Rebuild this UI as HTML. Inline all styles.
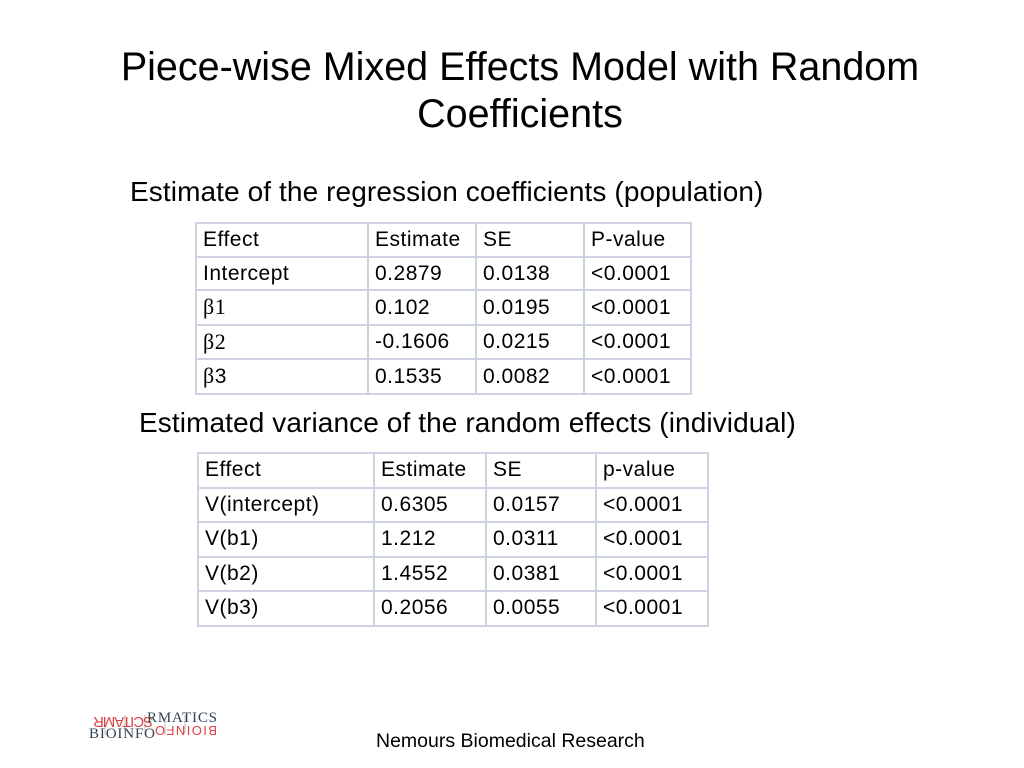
<!DOCTYPE html>
<html><head><meta charset="utf-8"><style>
body{margin:0;width:1024px;height:768px;background:#fff;position:relative;overflow:hidden;font-family:"Liberation Sans",sans-serif;color:#000}
.t{position:absolute;white-space:nowrap}
table{position:absolute;border-collapse:collapse;font-family:"Liberation Sans",sans-serif;font-size:21px;letter-spacing:0.5px;table-layout:fixed}
td{border:2px solid #cdd3e3;padding:0 0 0 6px;vertical-align:middle;overflow:hidden;white-space:nowrap}
#t1 td{height:31.6px;line-height:31.6px}
#t2 td{height:32.6px;line-height:32.6px}
.b{font-family:"Liberation Serif",serif;font-size:22px}
</style></head><body>
<div class="t" style="left:0;width:1040px;top:44px;text-align:center;font-size:39.5px;line-height:47px">Piece-wise Mixed Effects Model with Random<br>Coefficients</div>
<div class="t" style="left:130px;top:176px;font-size:28px;letter-spacing:0.1px">Estimate of the regression coefficients (population)</div>
<table id="t1" style="left:195px;top:222px">
<colgroup><col style="width:172px"><col style="width:108px"><col style="width:108px"><col style="width:107px"></colgroup>
<tr><td>Effect</td><td>Estimate</td><td>SE</td><td>P-value</td></tr>
<tr><td>Intercept</td><td>0.2879</td><td>0.0138</td><td>&lt;0.0001</td></tr>
<tr><td><span class="b">β1</span></td><td>0.102</td><td>0.0195</td><td>&lt;0.0001</td></tr>
<tr><td><span class="b">β2</span></td><td>-0.1606</td><td>0.0215</td><td>&lt;0.0001</td></tr>
<tr><td><span class="b">β</span>3</td><td>0.1535</td><td>0.0082</td><td>&lt;0.0001</td></tr>
</table>
<div class="t" style="left:139px;top:407px;font-size:28px;letter-spacing:0.1px">Estimated variance of the random effects (individual)</div>
<table id="t2" style="left:197px;top:452px">
<colgroup><col style="width:176px"><col style="width:112px"><col style="width:110px"><col style="width:112px"></colgroup>
<tr><td>Effect</td><td>Estimate</td><td>SE</td><td>p-value</td></tr>
<tr><td>V(intercept)</td><td>0.6305</td><td>0.0157</td><td>&lt;0.0001</td></tr>
<tr><td>V(b1)</td><td>1.212</td><td>0.0311</td><td>&lt;0.0001</td></tr>
<tr><td>V(b2)</td><td>1.4552</td><td>0.0381</td><td>&lt;0.0001</td></tr>
<tr><td>V(b3)</td><td>0.2056</td><td>0.0055</td><td>&lt;0.0001</td></tr>
</table>
<svg style="position:absolute;left:85px;top:705px" width="140" height="40">
<g stroke="#bbb" stroke-width="1"><line x1="20" y1="12" x2="20" y2="30"/><line x1="40" y1="10" x2="40" y2="30"/><line x1="60" y1="10" x2="60" y2="30"/><line x1="80" y1="12" x2="80" y2="30"/><line x1="100" y1="10" x2="100" y2="28"/></g>
<text x="4" y="22" font-family="Liberation Sans" font-size="15" fill="#d44" textLength="60" transform="rotate(180 36 17)">SCITAMR</text>
<text x="4" y="33" font-family="Liberation Serif" font-size="15" fill="#345" textLength="66">BIOINFO</text>
<text x="62" y="17" font-family="Liberation Serif" font-size="15" fill="#345" textLength="70">RMATICS</text>
<text x="70" y="31" font-family="Liberation Sans" font-size="13" fill="#d44" textLength="62" transform="rotate(180 101 26)">BIOINFO</text>
</svg>
<div class="t" style="left:376px;top:730px;font-size:19.5px">Nemours Biomedical Research</div>
</body></html>
